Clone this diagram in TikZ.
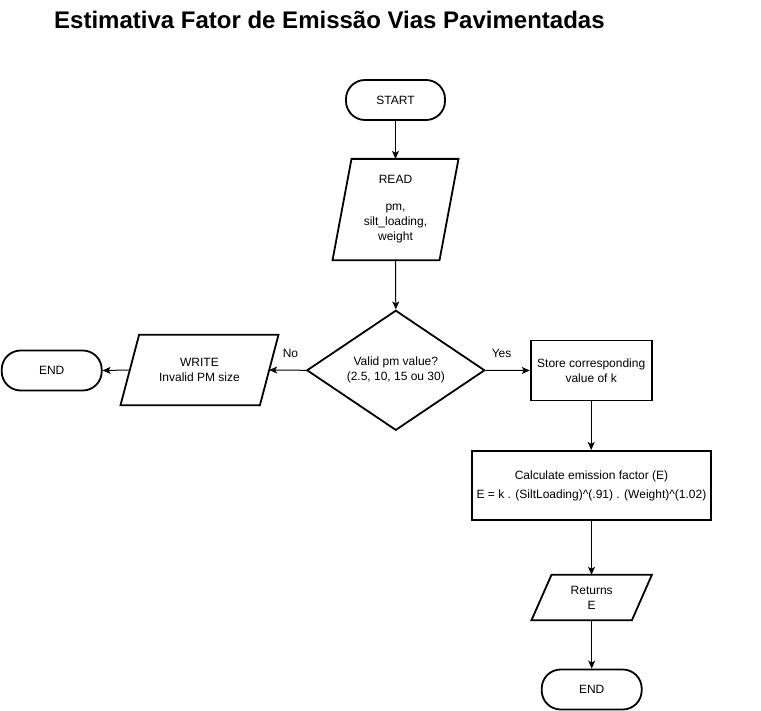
\documentclass[tikz,border=0pt]{standalone}
\usepackage{fontspec}
\setmainfont{Liberation Sans}
\usetikzlibrary{arrows.meta}
\usetikzlibrary{shapes.geometric}
\usetikzlibrary{calc,positioning}

\begin{document}
\begin{tikzpicture}[x=1pt,y=-1pt,
	font=\fontsize{12}{15}\selectfont,
	terminal/.style={draw, line width=1.8pt, rounded corners=19pt, minimum width=100pt, minimum height=40pt},
	proc/.style={draw, line width=1.8pt, align=center},
	io/.style={align=center, inner sep=0pt},
	decisao/.style={draw, diamond, line width=1.8pt, align=center, aspect=1.48, inner sep=1pt, minimum width=178pt, minimum height=120pt},
	seta/.style={-{Stealth[length=8pt,width=7pt,inset=2pt]}, line width=1pt},
	rotulo/.style={inner sep=0pt, above=12pt}]

	\useasboundingbox (0,0) rectangle (761,711);

% titulo
	\node[anchor=base west, inner sep=0pt, font=\fontsize{24}{28}\selectfont\bfseries] (titulo) at (54,28.3) {Estimativa Fator de Emissão Vias Pavimentadas};

% caixas
	\node[terminal, minimum width=99pt] (inicio) at (395.5,100) {START};
	\node[io, minimum width=106.6pt, minimum height=101pt] (leitura) at (395.5,209.6) {READ\\[12pt]pm,\\silt\_loading,\\weight};
	\node[decisao] (valido) at (395.8,370.3) {Valid pm value?\\(2.5, 10, 15 ou 30)};
	\node[io, minimum width=139pt, minimum height=70pt] (escrita) at (199.5,370) {WRITE\\Invalid PM size};
	\node[terminal] (fim1) at (51.7,370.5) {END};
	\node[proc, minimum width=121pt, minimum height=60pt] (guarda) at (591.2,370.5) {Store corresponding\\value of k};
	\node[proc, minimum width=238.4pt, minimum height=69.3pt] (calculo) at (591.5,485.5) {Calculate emission factor (E)\\[4pt]E = k . (SiltLoading)\textasciicircum(.91) . (Weight)\textasciicircum(1.02)};
	\node[io, minimum width=100pt, minimum height=45pt] (retorno) at (591.7,597.5) {Returns\\E};
	\node[terminal] (fim2) at (591.7,689.5) {END};

% paralelogramos
	\foreach \n/\s in {leitura/9.5, escrita/9.3, retorno/10}
		\draw[line width=1.8pt] ([xshift=\s]\n.north west) -- ([xshift=\s]\n.north east) -- ([xshift=-\s]\n.south east) -- ([xshift=-\s]\n.south west) -- cycle;

% ligacoes
	\draw[seta] (inicio.south) -- (leitura.north);
	\draw[seta] (leitura.south) -- (valido.north);
	\draw[seta] (valido.west) -- node[rotulo, pos=0.42] (nao) {No} (escrita.east);
	\draw[seta] (escrita.west) -- (fim1.east);
	\draw[seta] (valido.east) -- node[rotulo, pos=0.36] (sim) {Yes} (guarda.west);
	\draw[seta] (guarda.south) -- (guarda.south |- calculo.north);
	\draw[seta] (calculo.south) -- (calculo.south |- retorno.north);
	\draw[seta] (retorno.south) -- (fim2.north);
\end{tikzpicture}
\end{document}
